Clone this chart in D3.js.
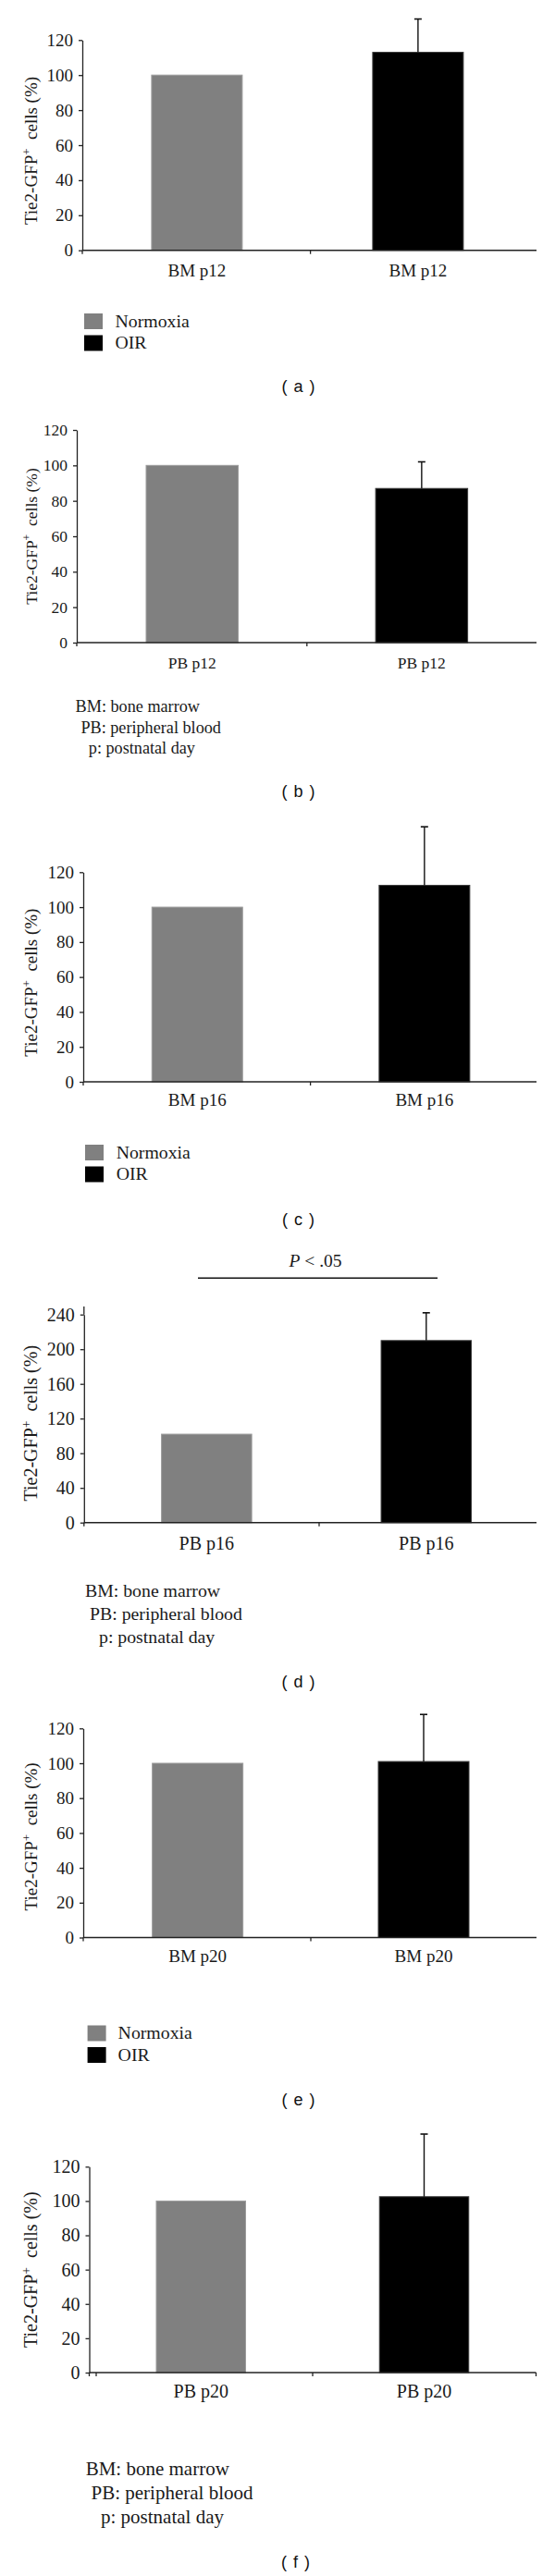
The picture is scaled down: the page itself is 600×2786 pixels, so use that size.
<!DOCTYPE html>
<html>
<head>
<meta charset="utf-8">
<script src="https://cdn.jsdelivr.net/npm/d3@7"></script>
<style>
  html, body { margin: 0; padding: 0; background: #fff; }
  svg { display: block; }
</style>
</head>
<body>
<script>
// ---------- DATA ----------
const groups = ["Normoxia", "OIR"];
const groupColors = ["#808080", "#000000"];

const catA = ["BM p12", "BM p12"];
const valA = [100, 113];
const errA = [0, 19];

const catB = ["PB p12", "PB p12"];
const valB = [100, 87];
const errB = [0, 15];

const catC = ["BM p16", "BM p16"];
const valC = [100, 112.5];
const errC = [0, 33.5];

const catD = ["PB p16", "PB p16"];
const valD = [102, 210];
const errD = [0, 32];

const catE = ["BM p20", "BM p20"];
const valE = [100, 101];
const errE = [0, 27];

const catF = ["PB p20", "PB p20"];
const valF = [100, 102.5];
const errF = [0, 36.5];

const ticks120 = [0, 20, 40, 60, 80, 100, 120];
const ticks240 = [0, 40, 80, 120, 160, 200, 240];

const notes = ["BM: bone marrow", "PB: peripheral blood", "p: postnatal day"];
const panelNames = ["( a )", "( b )", "( c )", "( d )", "( e )", "( f )"];
const sigText = ".05";

// ---------- LAYOUT ----------
const panels = [
  {cats: catA, vals: valA, errs: errA, ticks: ticks120, top: 120,
   ax: 89, xEnd: 580, y0: 270.7, yTop: 43.3, c1: 212.9, c2: 451.9, barW: 98, mid: 335.6,
   fs: 19, labDy: 28, titleShift: 6,
   legend: {x: 91, y: 339, tx: 124.5}, label: {x: 323, y: 424}},
  {cats: catB, vals: valB, errs: errB, ticks: ticks120, top: 120,
   ax: 83, xEnd: 580, y0: 695, yTop: 465, c1: 207.75, c2: 455.85, barW: 99.5, mid: 331.8,
   fs: 17.5, labDy: 28, titleShift: 0,
   notes: {xs: [81.6, 87.4, 95.8], ys: [770, 792.5, 815], fs: 18.2}, label: {x: 323, y: 862}},
  {cats: catC, vals: valC, errs: errC, ticks: ticks120, top: 120,
   ax: 90, xEnd: 580, y0: 1170, yTop: 943.3, c1: 213.25, c2: 458.85, barW: 98, mid: 335.6,
   fs: 19, labDy: 26, titleShift: 6,
   legend: {x: 92, y: 1238, tx: 125.7}, label: {x: 323, y: 1325}},
  {cats: catD, vals: valD, errs: errD, ticks: ticks240, top: 240,
   ax: 90.8, xEnd: 580, y0: 1646.7, yTop: 1421.7, c1: 223.35, c2: 460.8, barW: 97.5, mid: 345,
   fs: 20, labDy: 29, titleShift: 5, axisTop: 1413,
   sig: {x1: 214, x2: 473, y: 1382.3, tx: 341, ty: 1370},
   notes: {xs: [92, 97, 107], ys: [1727, 1752, 1777], fs: 19.8}, label: {x: 323, y: 1825}},
  {cats: catE, vals: valE, errs: errE, ticks: ticks120, top: 120,
   ax: 90, xEnd: 580, y0: 2095.5, yTop: 1869.3, c1: 213.65, c2: 458, barW: 98, mid: 336,
   fs: 19, labDy: 26.5, titleShift: 4,
   legend: {x: 94.6, y: 2190.5, tx: 127.6}, label: {x: 323, y: 2276.7}},
  {cats: catF, vals: valF, errs: errF, ticks: ticks120, top: 120,
   ax: 96.5, xEnd: 579.5, y0: 2566, yTop: 2343.3, c1: 217.25, c2: 458.5, barW: 96.5, mid: 338,
   fs: 20, labDy: 27, titleShift: 0, extraTicks: [104, 579.5],
   notes: {xs: [92.7, 98.5, 109], ys: [2676.7, 2702.7, 2729], fs: 21}, label: {x: 320, y: 2776.7}}
];

const SERIF = "'Liberation Serif', 'Times New Roman', serif";
const SANS = "'Liberation Sans', Arial, sans-serif";
const INK = "#1a1a1a";

const svg = d3.select("body").append("svg")
  .attr("width", 600).attr("height", 2786)
  .style("background", "#fff");

panels.forEach((p, pi) => {
  const g = svg.append("g");
  const y = d3.scaleLinear().domain([0, p.top]).range([p.y0, p.yTop]);
  const step = p.c2 - p.c1;
  const pad = 1 - p.barW / step;
  const x = d3.scaleBand().domain([0, 1])
    .range([p.c1 - step / 2, p.c2 + step / 2])
    .paddingInner(pad).paddingOuter(pad / 2);

  // bars
  g.selectAll("rect.bar").data(p.vals).join("rect")
    .attr("class", "bar")
    .attr("x", (d, i) => x(i))
    .attr("width", x.bandwidth())
    .attr("y", d => y(d))
    .attr("height", d => y(0) - y(d))
    .attr("fill", (d, i) => groupColors[i])
    .attr("stroke", (d, i) => i === 0 ? "#9c9c9c" : "#3a3a3a")
    .attr("stroke-width", 1);

  // error bars (upper only)
  p.vals.forEach((v, i) => {
    const e = p.errs[i];
    if (!e) return;
    const cx = x(i) + x.bandwidth() / 2;
    g.append("line").attr("x1", cx).attr("x2", cx)
      .attr("y1", y(v)).attr("y2", y(v + e))
      .attr("stroke", "#111").attr("stroke-width", 1.4);
    g.append("line").attr("x1", cx - 4).attr("x2", cx + 4)
      .attr("y1", y(v + e)).attr("y2", y(v + e))
      .attr("stroke", "#111").attr("stroke-width", 1.6);
  });

  // y axis
  const ya = g.append("g").attr("transform", `translate(${p.ax},0)`)
    .call(d3.axisLeft(y).tickValues(p.ticks).tickSize(4).tickSizeOuter(0).tickPadding(6));
  ya.attr("font-family", SERIF).attr("font-size", p.fs);
  ya.selectAll("text").attr("fill", INK);
  ya.selectAll("line, path").attr("stroke", "#222").attr("stroke-width", 1.3);
  if (p.axisTop) {
    g.append("line").attr("x1", p.ax).attr("x2", p.ax)
      .attr("y1", p.axisTop).attr("y2", p.yTop)
      .attr("stroke", "#222").attr("stroke-width", 1.3);
  }

  // x axis baseline with boundary ticks
  g.append("line").attr("x1", p.ax).attr("x2", p.xEnd)
    .attr("y1", p.y0).attr("y2", p.y0)
    .attr("stroke", "#222").attr("stroke-width", 1.5);
  const tickXs = [p.ax, p.mid].concat(p.extraTicks || []);
  g.selectAll("line.xt").data(tickXs).join("line")
    .attr("class", "xt")
    .attr("x1", d => d).attr("x2", d => d)
    .attr("y1", p.y0).attr("y2", p.y0 + 4)
    .attr("stroke", "#222").attr("stroke-width", 1.3);

  // category labels via axis
  const xa = g.append("g").attr("transform", `translate(0,${p.y0})`)
    .call(d3.axisBottom(x).tickSize(0).tickFormat(i => p.cats[i]));
  xa.select(".domain").remove();
  xa.attr("font-family", SERIF).attr("font-size", p.fs);
  xa.selectAll("text").attr("dy", 0).attr("y", p.labDy).attr("fill", INK);

  // y title
  const cy = (p.y0 + p.yTop) / 2 + p.titleShift;
  const t = g.append("text")
    .attr("transform", `translate(40,${cy}) rotate(-90)`)
    .attr("text-anchor", "middle")
    .attr("font-family", SERIF).attr("font-size", p.fs)
    .attr("fill", INK);
  t.append("tspan").text("Tie2-GFP");
  t.append("tspan").text("+").attr("baseline-shift", "super").attr("font-size", p.fs * 0.68);
  t.append("tspan").text("\u00a0\u00a0cells (%)");

  // significance
  if (p.sig) {
    g.append("line").attr("x1", p.sig.x1).attr("x2", p.sig.x2)
      .attr("y1", p.sig.y).attr("y2", p.sig.y)
      .attr("stroke", "#111").attr("stroke-width", 1.5);
    const st = g.append("text").attr("x", p.sig.tx).attr("y", p.sig.ty)
      .attr("text-anchor", "middle")
      .attr("font-family", SERIF).attr("font-size", 19.5).attr("fill", INK);
    st.append("tspan").attr("font-style", "italic").text("P");
    st.append("tspan").text(" < " + sigText);
  }

  // legend
  if (p.legend) {
    groups.forEach((name, i) => {
      const top = p.legend.y + i * 23.5;
      g.append("rect").attr("x", p.legend.x).attr("y", top)
        .attr("width", 20).attr("height", 17)
        .attr("fill", groupColors[i]);
      g.append("text").attr("x", p.legend.tx).attr("y", top + 14.5)
        .attr("font-family", SERIF).attr("font-size", 19.8)
        .attr("fill", INK).text(name);
    });
  }

  // notes
  if (p.notes) {
    notes.forEach((n, i) => {
      g.append("text").attr("x", p.notes.xs[i]).attr("y", p.notes.ys[i])
        .attr("font-family", SERIF).attr("font-size", p.notes.fs)
        .attr("fill", INK).text(n);
    });
  }

  // panel label
  g.append("text").attr("x", p.label.x).attr("y", p.label.y)
    .attr("text-anchor", "middle")
    .attr("font-family", SANS).attr("font-size", 18)
    .attr("letter-spacing", 1)
    .attr("fill", "#111")
    .style("white-space", "pre")
    .text(panelNames[pi]);
});
</script>
</body>
</html>
